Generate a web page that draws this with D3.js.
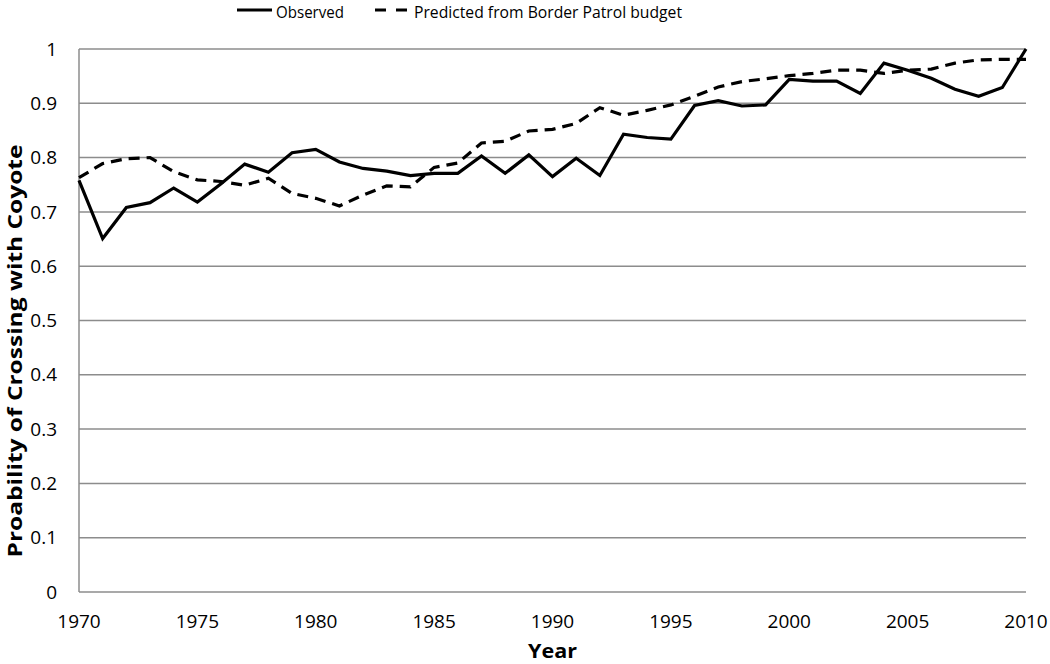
<!DOCTYPE html>
<html>
<head>
<meta charset="utf-8">
<script src="https://cdn.jsdelivr.net/npm/d3@7"></script>
<style>
  body { margin: 0; background: #fff; }
  text { font-family: "Open Sans", "Liberation Sans", sans-serif; fill: #000; }
</style>
</head>
<body>
<div id="chart"></div>
<script>
const years = d3.range(1970, 2011);
const observed = [
  0.758, 0.651, 0.708, 0.717, 0.744, 0.718, 0.752, 0.788, 0.773, 0.809,
  0.815, 0.792, 0.780, 0.775, 0.767, 0.771, 0.771, 0.803, 0.771, 0.805,
  0.765, 0.799, 0.767, 0.843, 0.837, 0.834, 0.896, 0.905, 0.895, 0.897,
  0.944, 0.941, 0.941, 0.918, 0.974, 0.961, 0.946, 0.926, 0.913, 0.929,
  1.0
];
const predicted = [
  0.763, 0.789, 0.798, 0.800, 0.774, 0.759, 0.756, 0.749, 0.762, 0.734,
  0.725, 0.711, 0.731, 0.748, 0.746, 0.782, 0.790, 0.827, 0.830, 0.849,
  0.852, 0.863, 0.892, 0.878, 0.887, 0.897, 0.913, 0.930, 0.940, 0.945,
  0.951, 0.955, 0.961, 0.961, 0.955, 0.961, 0.963, 0.974, 0.980, 0.981,
  0.981
];
const yTicks = d3.range(0, 11).map(d => d / 10);
const xTicks = [1970, 1975, 1980, 1985, 1990, 1995, 2000, 2005, 2010];

const width = 1050, height = 664;
const margin = { top: 49, right: 24, bottom: 72, left: 79 };

const svg = d3.select("#chart").append("svg")
    .attr("width", width)
    .attr("height", height);

const x = d3.scaleLinear()
    .domain([1970, 2010])
    .range([margin.left, width - margin.right]);
const y = d3.scaleLinear()
    .domain([0, 1])
    .range([height - margin.bottom, margin.top]);

// gridlines
svg.append("g")
    .selectAll("line")
    .data(yTicks)
    .join("line")
    .attr("x1", margin.left)
    .attr("x2", width - margin.right)
    .attr("y1", d => y(d))
    .attr("y2", d => y(d))
    .style("stroke", "#8c8c8c")
    .style("stroke-width", 1.5);

// left axis line
svg.append("line")
    .attr("x1", margin.left).attr("x2", margin.left)
    .attr("y1", y(0)).attr("y2", y(1))
    .style("stroke", "#8c8c8c")
    .style("stroke-width", 1.5);

// y tick labels
svg.append("g")
    .selectAll("text")
    .data(yTicks)
    .join("text")
    .attr("x", margin.left - 22)
    .attr("y", d => y(d))
    .attr("dy", "0.35em")
    .attr("text-anchor", "end")
    .style("font-size", "19px")
    .text(d => d3.format("")(d));

// x tick labels
svg.append("g")
    .selectAll("text")
    .data(xTicks)
    .join("text")
    .attr("x", d => x(d))
    .attr("y", y(0) + 36)
    .attr("text-anchor", "middle")
    .style("font-size", "19px")
    .text(d => d);

// axis titles
svg.append("text")
    .attr("x", (margin.left + width - margin.right) / 2)
    .attr("y", 658)
    .attr("text-anchor", "middle")
    .attr("textLength", 49)
    .attr("lengthAdjust", "spacingAndGlyphs")
    .style("font-size", "19px")
    .style("font-weight", "bold")
    .text("Year");

svg.append("text")
    .attr("transform", "translate(22, 351) rotate(-90)")
    .attr("text-anchor", "middle")
    .attr("textLength", 413)
    .attr("lengthAdjust", "spacingAndGlyphs")
    .style("font-size", "19px")
    .style("font-weight", "bold")
    .text("Proability of Crossing with Coyote");

const line = d3.line()
    .x((d, i) => x(years[i]))
    .y(d => y(d));

svg.append("path")
    .datum(predicted)
    .attr("d", line)
    .style("fill", "none")
    .style("stroke", "#000")
    .style("stroke-width", 3.2)
    .style("stroke-dasharray", "11,7");

svg.append("path")
    .datum(observed)
    .attr("d", line)
    .style("fill", "none")
    .style("stroke", "#000")
    .style("stroke-width", 3.2)
    .style("stroke-linejoin", "miter");

// legend
const legend = svg.append("g");
legend.append("line")
    .attr("x1", 237).attr("x2", 272).attr("y1", 10).attr("y2", 10)
    .style("stroke", "#000").style("stroke-width", 3.2);
legend.append("text")
    .attr("x", 276).attr("y", 18)
    .attr("textLength", 68)
    .attr("lengthAdjust", "spacingAndGlyphs")
    .style("font-size", "17px")
    .text("Observed");
legend.append("line")
    .attr("x1", 375).attr("x2", 407).attr("y1", 10).attr("y2", 10)
    .style("stroke", "#000").style("stroke-width", 3.2)
    .style("stroke-dasharray", "11,10");
legend.append("text")
    .attr("x", 414).attr("y", 18)
    .attr("textLength", 268)
    .attr("lengthAdjust", "spacingAndGlyphs")
    .style("font-size", "17px")
    .text("Predicted from Border Patrol budget");
</script>
</body>
</html>
